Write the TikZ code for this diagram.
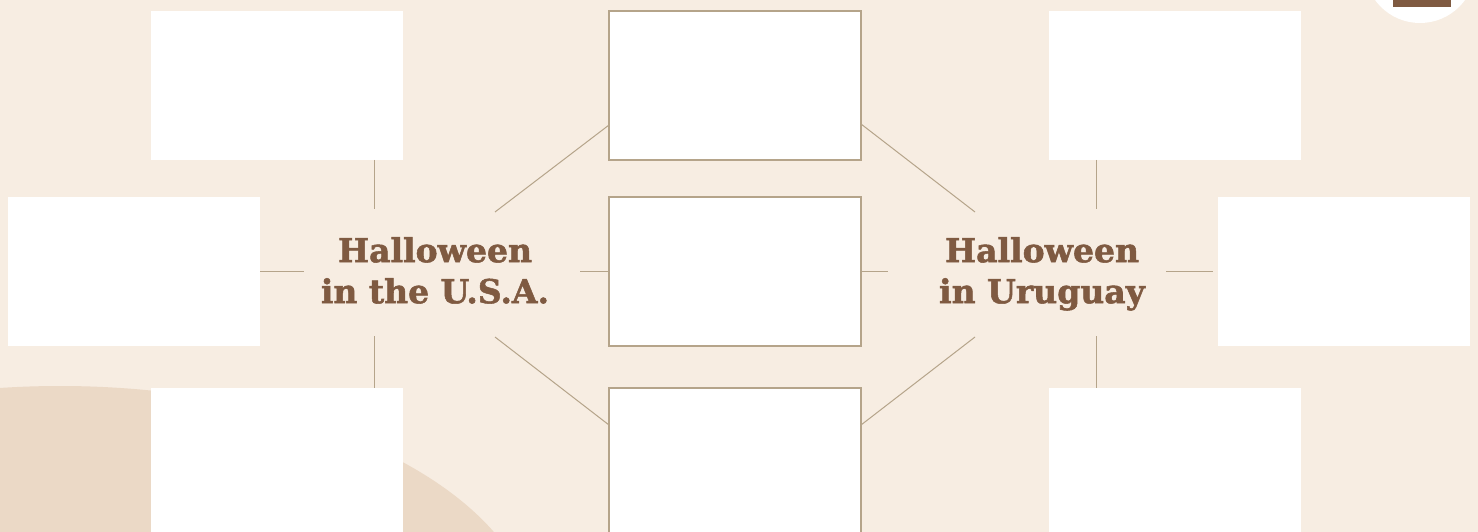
\documentclass[tikz,border=0pt]{standalone}
\usepackage{fontspec}
\newfontfamily\slab[BoldFeatures={FakeBold=1.6}]{DejaVu Serif}
\usetikzlibrary{calc}
\definecolor{bg}{HTML}{F7EDE2}
\definecolor{blob}{HTML}{EBD9C6}
\definecolor{edge}{HTML}{B5A48A}
\definecolor{ink}{HTML}{7F5A41}
\begin{document}
\begin{tikzpicture}[x=1pt,y=-1pt,
 plain/.style={fill=white,inner sep=0pt,outer sep=0pt,minimum width=252pt,minimum height=149pt},
 framed/.style={plain,draw=edge,line width=2pt},
 link/.style={draw=edge,line width=1pt},
 title/.style={text=ink,font=\slab\bfseries\fontsize{33}{41}\selectfont,align=center,inner sep=0pt}]
\useasboundingbox (0,0) rectangle (1478,532);
\clip (0,0) rectangle (1478,532);
\fill[bg] (0,0) rectangle (1478,532);
\fill[blob] (60,636) ellipse [x radius=477, y radius=250];
\fill[white] (1420,-32.5) circle [radius=55.5];
\fill[ink] (1393,-20) rectangle (1451,7);
% boxes
\node[plain] (tl) at (277,85.5) {};
\node[plain] (ml) at (134,271.5) {};
\node[plain,minimum height=172pt] (bl) at (277,474) {};
\node[plain] (tr) at (1175,85.5) {};
\node[plain] (mr) at (1344,271.5) {};
\node[plain,minimum height=172pt] (br) at (1175,474) {};
% titles
\node[title] (usa) at (435,274.5) {\strut Halloween\\\strut in the U.S.A.};
\node[title] (uru) at (1042,274.5) {\strut Halloween\\\strut in Uruguay};
% connector ends
\coordinate (ua) at (374,209);
\coordinate (ub) at (374,336);
\coordinate (ul) at (304,271);
\coordinate (ur) at (580,271);
\coordinate (ud1) at (495,212);
\coordinate (ud2) at (495,337);
\coordinate (ra) at (1096,209);
\coordinate (rb) at (1096,336);
\coordinate (rl) at (888,271);
\coordinate (rr) at (1166,271);
\coordinate (rd1) at (975,212);
\coordinate (rd2) at (975,337);
\coordinate (rre) at (1213,271);
% connectors
\draw[link] (tl.south -| ua) -- (ua);
\draw[link] (ub) -- (bl.north -| ub);
\draw[link] (ml.east |- ul) -- (ul);
\draw[link] (ur) -- (609,271);
\draw[link] (ud1) -- (609,125);
\draw[link] (ud2) -- (609,425);
\draw[link] (861,271) -- (rl);
\draw[link] (861,124) -- (rd1);
\draw[link] (861,425) -- (rd2);
\draw[link] (tr.south -| ra) -- (ra);
\draw[link] (rb) -- (br.north -| rb);
\draw[link] (rr) -- (rre);
% framed boxes
\node[framed] (ct) at (735,85.5) {};
\node[framed] (cm) at (735,271.5) {};
\node[framed,minimum height=172pt] (cb) at (735,474) {};
\end{tikzpicture}
\end{document}
